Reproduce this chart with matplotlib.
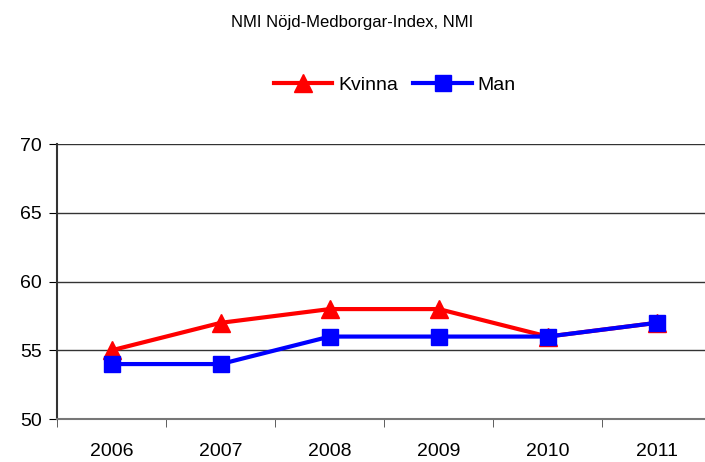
import matplotlib
matplotlib.use("Agg")
import matplotlib.pyplot as plt
import numpy as np

years = ["2006", "2007", "2008", "2009", "2010", "2011"]
kvinna = [55, 57, 58, 58, 56, 57]
man = [54, 54, 56, 56, 56, 57]

plt.rcParams['font.family'] = ['Liberation Sans', 'DejaVu Sans']

fig = plt.figure(figsize=(7.05, 4.62), dpi=100)
ax = fig.add_axes([0.081, 0.093, 0.928, 0.595])

x = np.arange(len(years))
ax.plot(x, kvinna, color='red', lw=3, marker='^', ms=13, label='Kvinna', zorder=3)
ax.plot(x, man, color='blue', lw=3, marker='s', ms=12, label='Man', zorder=4)

ax.set_xlim(-0.5, len(years) - 0.5)
ax.set_ylim(50, 70)
ax.set_yticks([50, 55, 60, 65, 70])
ax.set_xticks(x)
ax.set_xticklabels(years)
ax.set_xticks(np.arange(-0.5, len(years), 1), minor=True)
ax.tick_params(axis='x', which='major', length=0, pad=17, labelsize=14)
ax.tick_params(axis='x', which='minor', length=6, direction='out', color='#444444')
ax.tick_params(axis='y', length=6, direction='out', labelsize=14, pad=5)
ax.yaxis.grid(True, color='#333333', lw=1)
ax.set_axisbelow(True)

for s in ['top', 'right']:
    ax.spines[s].set_visible(False)
ax.spines['left'].set_color('#333333')
ax.spines['bottom'].set_color('#777777')
ax.spines['left'].set_linewidth(1.5)
ax.spines['bottom'].set_linewidth(1.5)

fig.text(0.5, 0.952, "NMI Nöjd-Medborgar-Index, NMI", ha='center', va='center', fontsize=12)
fig.legend(loc='center', bbox_to_anchor=(0.56, 0.815), ncol=2, frameon=False,
           fontsize=14, handlelength=3.0, columnspacing=0.8, handletextpad=0.3)

fig.savefig("out.png", dpi=100)
